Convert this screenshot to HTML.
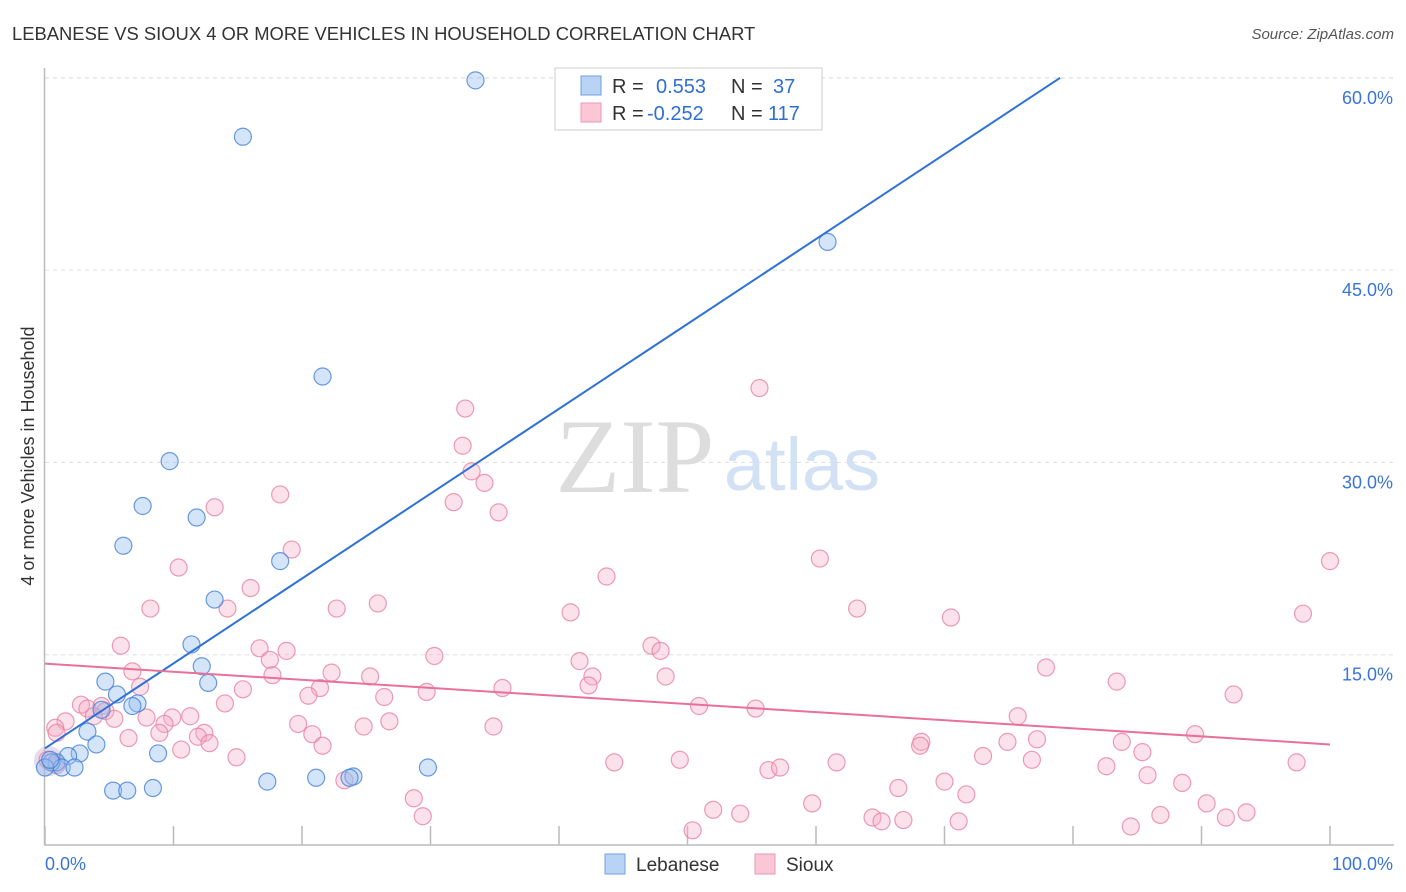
<!DOCTYPE html>
<html><head><meta charset="utf-8"><style>
body{margin:0;background:#fff;font-family:"Liberation Sans",sans-serif}
#wrap{position:relative;width:1406px;height:892px;overflow:hidden}
</style></head><body>
<div id="wrap">
<svg id="chart" width="1406" height="892"></svg>
</div>
<script>
const blueX=[33.5,15.4,60.9,21.6,9.7,7.6,11.8,6.1,18.3,13.2,11.4,12.2,12.7,4.7,5.6,7.2,6.8,4.4,3.3,4.0,2.7,8.8,1.8,0.9,0.5,1.3,2.3,0,29.8,5.3,6.4,8.4,17.3,21.1,24.0,23.7,0.4];
const blueY=[59.8,55.4,47.2,36.7,30.1,26.6,25.7,23.5,22.3,19.3,15.8,14.1,12.8,12.9,11.9,11.2,11.0,10.7,9.0,8.0,7.3,7.3,7.1,6.6,6.6,6.2,6.2,6.2,6.2,4.4,4.4,4.6,5.1,5.4,5.5,5.4,6.8];
const pinkX=[32.7,32.5,55.6,33.2,34.2,31.8,35.3,18.3,13.2,19.2,10.4,100,60.3,43.7,16.0,25.9,8.2,14.2,22.7,63.2,40.9,97.9,70.5,5.9,16.7,18.8,47.2,47.9,41.6,30.3,77.9,17.5,6.8,22.3,25.3,17.7,42.6,48.3,7.4,21.4,35.6,42.3,15.4,29.7,26.4,20.5,92.5,83.4,2.8,3.3,4.4,14.0,50.9,55.3,4.7,3.8,1.6,0.8,5.4,7.9,9.9,11.3,9.3,19.7,26.8,75.7,24.8,34.9,0.9,8.9,6.5,12.4,20.8,11.9,12.8,21.6,89.5,77.2,68.2,68.1,74.9,83.8,10.6,14.9,73.0,85.4,76.8,44.3,49.4,61.6,56.3,57.2,82.6,97.4,70.0,66.4,85.8,88.5,71.7,28.7,23.3,52.0,54.1,59.7,90.4,29.4,64.4,65.1,66.8,71.1,86.8,93.5,91.9,84.5,50.4,0.9,0.2];
const pinkY=[34.2,31.3,35.8,29.3,28.4,26.9,26.1,27.5,26.5,23.2,21.8,22.3,22.5,21.1,20.2,19.0,18.6,18.6,18.6,18.6,18.3,18.2,17.9,15.7,15.5,15.3,15.7,15.3,14.5,14.9,14.0,14.6,13.7,13.6,13.3,13.4,13.3,13.3,12.5,12.4,12.4,12.6,12.3,12.1,11.7,11.8,11.9,12.9,11.1,10.8,11.0,11.2,11.0,10.8,10.6,10.2,9.8,9.3,10.0,10.1,10.1,10.2,9.6,9.6,9.8,10.2,9.4,9.4,8.9,8.9,8.5,8.9,8.8,8.6,8.1,7.9,8.8,8.4,8.2,7.9,8.2,8.2,7.6,7.0,7.1,7.4,6.8,6.6,6.8,6.6,6.0,6.2,6.3,6.6,5.1,4.6,5.6,5.0,4.1,3.8,5.2,2.9,2.6,3.4,3.4,2.4,2.3,2.0,2.1,2.0,2.5,2.7,2.3,1.6,1.3,6.4,6.8];
const blueTrend=[7.7,0.662];   // intercept, slope
const pinkTrend=[14.3,8.0];    // value at x=0, value at x=100
const yTicks=[15,30,45,60];
const yTickLabels=["15.0%","30.0%","45.0%","60.0%"];
const xTicks=[0,10,20,30,40,50,60,70,80,90,100];

const NS="http://www.w3.org/2000/svg";
const svg=document.getElementById('chart');
const X0=45,X1=1330,Y0=847,YS=12.82;
function sx(v){return X0+(X1-X0)*v/100;}
function sy(v){return Y0-v*YS;}
function mk(t,a,p){const e=document.createElementNS(NS,t);for(const k in a)e.setAttribute(k,a[k]);(p||svg).appendChild(e);return e;}

let e;
e=mk('text',{x:12,y:40,'font-size':18.4,fill:'#333'});e.textContent='LEBANESE VS SIOUX 4 OR MORE VEHICLES IN HOUSEHOLD CORRELATION CHART';


e=mk('text',{x:1394,y:39,'font-size':15,fill:'#555','font-style':'italic','text-anchor':'end'});e.textContent='Source: ZipAtlas.com';



mk('line',{x1:45,x2:1394,y1:78,y2:78,stroke:'#ddd','stroke-dasharray':'4,4'});
yTicks.forEach((t,i)=>{
  const l=mk('line',{x1:45,x2:1394,y1:sy(t),y2:sy(t),stroke:'#ddd','stroke-dasharray':'4,4'});
  
  
  const tx=mk('text',{x:1393,y:sy(t)+26,'font-size':18,fill:'#3b74d8','text-anchor':'end'});tx.textContent=yTickLabels[i];
  
  
});
mk('line',{x1:44.5,x2:44.5,y1:68,y2:845,stroke:'#bbb','stroke-width':1.5});
mk('line',{x1:44,x2:1394,y1:845,y2:845,stroke:'#bbb','stroke-width':1.5});
xTicks.forEach(t=>{
  const l=mk('line',{x1:sx(t),x2:sx(t),y1:826,y2:845,stroke:'#bbb','stroke-width':1.5});
  
  
});
e=mk('text',{x:45,y:870,'font-size':18,fill:'#3b74d8'});e.textContent='0.0%';


e=mk('text',{x:1393,y:870,'font-size':18,fill:'#3b74d8','text-anchor':'end'});e.textContent='100.0%';


e=mk('text',{x:34,y:456,'font-size':18,fill:'#333','text-anchor':'middle',transform:'rotate(-90 34 456)'});e.textContent='4 or more Vehicles in Household';



e=mk('text',{x:635,y:492,'font-size':106,fill:'#ddd','font-family':'Liberation Serif,serif','text-anchor':'middle'});e.textContent='ZIP';


e=mk('text',{x:802,y:490,'font-size':74,fill:'#d3e1f5','text-anchor':'middle'});e.textContent='atlas';



mk('circle',{cx:sx(0.3),cy:sy(6.7),r:15,fill:'#c9b8dc',opacity:0.5});
pinkX.forEach((v,i)=>{
  const c=mk('circle',{cx:sx(v),cy:sy(pinkY[i]),r:8.5,fill:'rgba(244,170,195,0.35)',stroke:'rgba(232,130,165,0.8)','stroke-width':1.2});
  
  
});
blueX.forEach((v,i)=>{
  const c=mk('circle',{cx:sx(v),cy:sy(blueY[i]),r:8.5,fill:'rgba(150,190,240,0.4)',stroke:'rgba(70,130,215,0.8)','stroke-width':1.2});
  
  
});
const bxEnd=(60-blueTrend[0])/blueTrend[1];
e=mk('line',{x1:sx(0),y1:sy(blueTrend[0]),x2:sx(bxEnd),y2:sy(60),stroke:'#2f72d6','stroke-width':2});


e=mk('line',{x1:sx(0),y1:sy(pinkTrend[0]),x2:sx(100),y2:sy(pinkTrend[1]),stroke:'#e8709a','stroke-width':2});



const lg=mk('g',{});


mk('rect',{x:555,y:68,width:267,height:62,fill:'#fff',stroke:'#ccc'},lg);
mk('rect',{x:581,y:76,width:20,height:19,fill:'#b9d3f5',stroke:'#6fa0e0'},lg);
mk('rect',{x:581,y:103,width:20,height:19,fill:'#fbc7d7',stroke:'#ea9ab6'},lg);
function lt(x,y,s,c){const t=mk('text',{x:x,y:y,'font-size':20,fill:c},lg);t.textContent=s;return t;}
lt(612,93,'R =','#333');lt(656,93,'0.553','#2f6fd4');lt(731,93,'N =','#333');lt(773,93,'37','#2f6fd4');
lt(612,120,'R =','#333');lt(647,120,'-0.252','#2f6fd4');lt(731,120,'N =','#333');lt(768,120,'117','#2f6fd4');

const bl=mk('g',{});


mk('rect',{x:605,y:854,width:20,height:20,fill:'#b9d3f5',stroke:'#6fa0e0'},bl);
e=mk('text',{x:636,y:871,'font-size':19,fill:'#333'},bl);e.textContent='Lebanese';
mk('rect',{x:755,y:854,width:20,height:20,fill:'#fbc7d7',stroke:'#ea9ab6'},bl);
e=mk('text',{x:786,y:871,'font-size':19,fill:'#333'},bl);e.textContent='Sioux';
</script>
</body></html>
